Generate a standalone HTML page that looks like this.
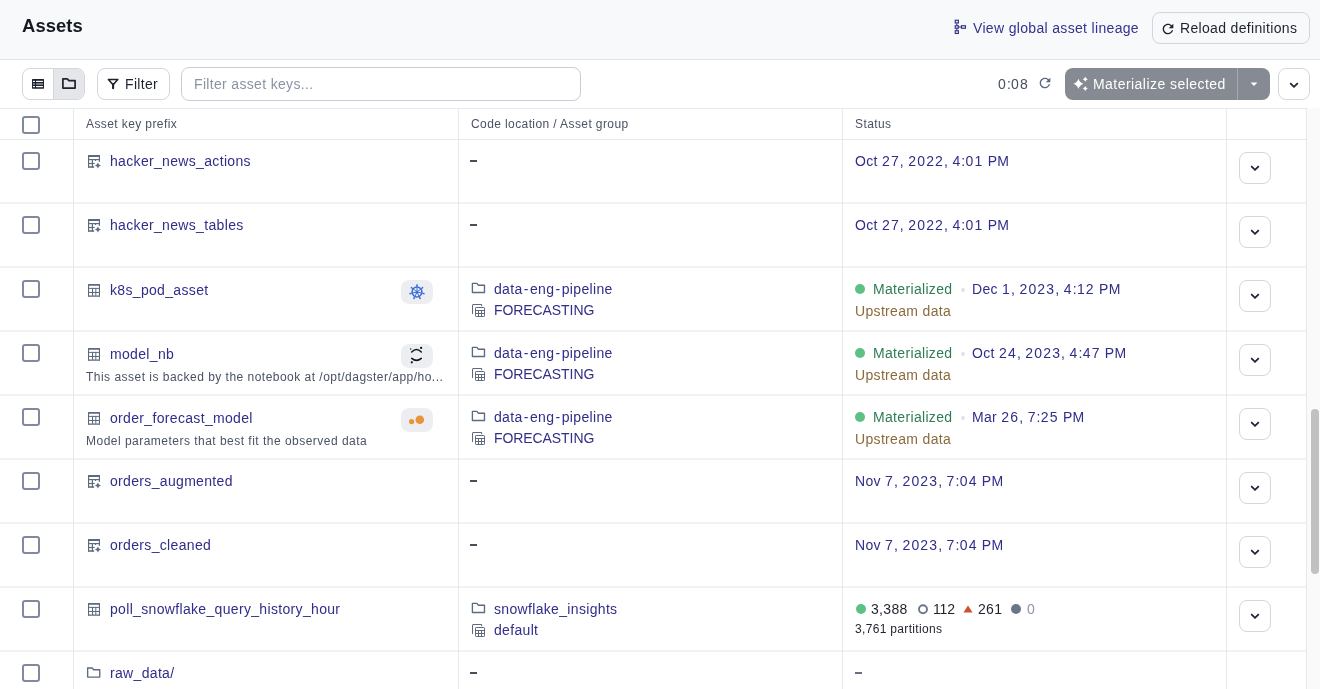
<!DOCTYPE html>
<html><head><meta charset="utf-8"><style>
html,body{margin:0;padding:0}
body{width:1320px;height:689px;overflow:hidden;position:relative;background:#fff;font-family:"Liberation Sans",sans-serif;}
.ic{position:absolute;display:block}
.t{position:absolute;white-space:nowrap;height:0;line-height:0;will-change:transform}
.cb{position:absolute;width:14px;height:14px;border:2px solid #808A9C;border-radius:3px;background:#fff}
.cbtn{position:absolute;width:30px;height:30px;border:1px solid #D3D7DE;border-radius:8px;background:#fff}
.tag{position:absolute;width:32px;height:24px;border-radius:8px;background:#ECEEF2}
.dash{position:absolute;width:7.3px;height:1.6px;background:#484E5C}
.gdot{position:absolute;width:10px;height:10px;border-radius:50%;background:#5DC184}
.hdot{position:absolute;width:6px;height:6px;border-radius:50%;border:1.8px solid #6B768A}
.sdot{position:absolute;width:4px;height:4px;border-radius:50%;background:#DFE2E7}
.vl{position:absolute;top:108px;height:581px;width:1px;background:#E5E8ED}
.hl{position:absolute;left:0;width:1306px;height:1px;background:#E5E8ED}
#hdr{position:absolute;left:0;top:0;width:1320px;height:59px;background:#F8F9FB;border-bottom:1px solid #E1E4E9}
.btn{position:absolute;box-sizing:border-box;border:1px solid #D2D6DD;border-radius:8px}
#sb{position:absolute;left:1307px;top:108px;width:13px;height:581px;background:#FAFAFA}
#thumb{position:absolute;left:1311px;top:409px;width:8px;height:165px;border-radius:4px;background:#C1C1C1}
</style></head><body>
<div id="hdr"></div>
<div class="t" style="left:22px;top:26.42px;font-size:18.4px;letter-spacing:0.1px;color:#161A22;font-weight:700;">Assets</div>
<svg class="ic" style="left:953px;top:18px" width="15" height="18" viewBox="0 0 15 18"><g fill="none" stroke="#302E89" stroke-width="1.15"><rect x="2.25" y="2.25" width="3.1" height="2.7"/><rect x="2.25" y="7.75" width="3.1" height="2.5"/><rect x="2.25" y="12.75" width="3.1" height="2.7"/><rect x="8.45" y="7.75" width="4" height="2.5"/><path d="M3.8 5.5V7.2M3.8 10.8V12.2M5.9 9H7.9"/></g></svg>
<div class="t" style="left:973px;top:28.15px;font-size:14px;letter-spacing:0.33px;color:#34328C;font-weight:400;">View global asset lineage</div>
<div class="btn" style="left:1152px;top:12px;width:158px;height:32px"></div>
<svg class="ic" style="left:1159.5px;top:20.5px" width="16" height="16" viewBox="0 0 24 24"><path fill="#1D2230" d="M17.65 6.35C16.2 4.9 14.21 4 12 4c-4.42 0-7.99 3.58-7.99 8s3.57 8 7.99 8c3.73 0 6.84-2.55 7.73-6h-2.08c-.82 2.33-3.04 4-5.65 4-3.31 0-6-2.69-6-6s2.69-6 6-6c1.66 0 3.14.69 4.22 1.78L13 11h7V4l-2.35 2.35z"/></svg>
<div class="t" style="left:1180px;top:28.15px;font-size:14px;letter-spacing:0.33px;color:#1D2230;font-weight:400;">Reload definitions</div>

<div class="btn" style="left:22px;top:68px;width:63px;height:32px;overflow:hidden"><div style="position:absolute;left:30px;top:0;width:32px;height:30px;background:#E4E6EA;border-left:1px solid #D2D6DD"></div></div>
<svg class="ic" style="left:32px;top:79px" width="12" height="10" viewBox="0 0 12 10"><rect x="0" y="0" width="12" height="9.7" rx="0.6" fill="#1D2230"/><g fill="#fff"><rect x="0.95" y="1.8" width="2" height="1.2"/><rect x="4.1" y="1.8" width="6.8" height="1.2"/><rect x="0.95" y="7" width="2" height="1.2"/><rect x="4.1" y="7" width="6.8" height="1.2"/></g><g fill="#A0A3AA"><rect x="0.95" y="4.3" width="2" height="1.4"/><rect x="4.1" y="4.3" width="6.8" height="1.4"/></g></svg>
<svg class="ic" style="left:61px;top:77px" width="16" height="13" viewBox="0 0 16 13"><path d="M1.9 1.8H5.9Q6.5 1.8 6.8 2.3L7.7 3.6H14.1V11.1H1.9Z" fill="none" stroke="#1D2230" stroke-width="1.7" stroke-linejoin="round"/></svg>

<div class="btn" style="left:97px;top:68px;width:73px;height:32px"></div>
<svg class="ic" style="left:103px;top:74px" width="20" height="20" viewBox="0 0 20 20"><path d="M5.4 5.5H14.8L10.1 10.8Z" fill="none" stroke="#1D2230" stroke-width="1.6" stroke-linejoin="round"/><path d="M10.1 10.3V14.3" stroke="#1D2230" stroke-width="2.1" stroke-linecap="round"/></svg>
<div class="t" style="left:125.2px;top:84.15px;font-size:14px;letter-spacing:0.33px;color:#1D2230;font-weight:400;">Filter</div>

<div class="btn" style="left:181px;top:67px;width:400px;height:34px;border-color:#C9CED6"></div>
<div class="t" style="left:194px;top:84.15px;font-size:14px;letter-spacing:0.33px;color:#8A93A3;font-weight:400;">Filter asset keys...</div>

<div class="t" style="left:997.5px;top:84.15px;font-size:14px;letter-spacing:0.33px;color:#454F60;font-weight:400;"><span style="letter-spacing:1.08px">0</span>:<span style="letter-spacing:1.08px">08</span></div>
<svg class="ic" style="left:1036.6px;top:74.7px" width="16" height="16" viewBox="0 0 24 24"><path fill="#5A6880" d="M17.65 6.35C16.2 4.9 14.21 4 12 4c-4.42 0-7.99 3.58-7.99 8s3.57 8 7.99 8c3.73 0 6.84-2.55 7.73-6h-2.08c-.82 2.33-3.04 4-5.65 4-3.31 0-6-2.69-6-6s2.69-6 6-6c1.66 0 3.14.69 4.22 1.78L13 11h7V4l-2.35 2.35z"/></svg>
<div style="position:absolute;left:1065px;top:68px;width:205px;height:32px;border-radius:8px;background:#868A92"></div>
<div style="position:absolute;left:1237px;top:68px;width:1px;height:32px;background:#A6A9AF"></div>
<svg class="ic" style="left:1068px;top:72px" width="24" height="24" viewBox="0 0 24 24"><path d="M10.45 6.75Q11.725 10.575 15.549999999999999 11.85Q11.725 13.125 10.45 16.95Q9.174999999999999 13.125 5.35 11.85Q9.174999999999999 10.575 10.45 6.75ZM17.25 4.8Q17.875 6.675 19.75 7.3Q17.875 7.925 17.25 9.8Q16.625 7.925 14.75 7.3Q16.625 6.675 17.25 4.8ZM17.25 13.899999999999999Q17.875 15.774999999999999 19.75 16.4Q17.875 17.025 17.25 18.9Q16.625 17.025 14.75 16.4Q16.625 15.774999999999999 17.25 13.899999999999999Z" fill="#fff"/></svg>
<div class="t" style="left:1093px;top:84.15px;font-size:14px;letter-spacing:0.45px;color:#fff;font-weight:400;">Materialize selected</div>
<svg class="ic" style="left:1250px;top:81px" width="8" height="6" viewBox="0 0 8 6"><path d="M0.6 1.4H7.4L4 5Z" fill="#fff"/></svg>
<div class="cbtn" style="left:1278px;top:68px"><svg width="10" height="6" viewBox="0 0 10 6" style="position:absolute;left:9.5px;top:13px"><path d="M1.2 1.2L5 4.8L8.8 1.2" fill="none" stroke="#1D2433" stroke-width="1.8"/></svg></div>

<div class="hl" style="top:108px"></div><div class="hl" style="top:139px"></div><div class="hl" style="top:202px;height:2px;background:#F1F2F5"></div><div class="hl" style="top:266px;height:2px;background:#F1F2F5"></div><div class="hl" style="top:330px;height:2px;background:#F1F2F5"></div><div class="hl" style="top:394px;height:2px;background:#F1F2F5"></div><div class="hl" style="top:458px;height:2px;background:#F1F2F5"></div><div class="hl" style="top:522px;height:2px;background:#F1F2F5"></div><div class="hl" style="top:586px;height:2px;background:#F1F2F5"></div><div class="hl" style="top:650px;height:2px;background:#F1F2F5"></div>
<div class="vl" style="left:73px"></div><div class="vl" style="left:458px"></div><div class="vl" style="left:842px"></div><div class="vl" style="left:1226px"></div><div class="vl" style="left:1306px"></div>
<div id="sb"></div><div id="thumb"></div>
<div class="cb" style="left:22px;top:116.3px"></div>
<div class="t" style="left:86px;top:123.84px;font-size:12px;letter-spacing:0.4px;color:#4A5263;font-weight:400;">Asset key prefix</div>
<div class="t" style="left:471px;top:123.84px;font-size:12px;letter-spacing:0.4px;color:#4A5263;font-weight:400;">Code location / Asset group</div>
<div class="t" style="left:855px;top:123.84px;font-size:12px;letter-spacing:0.4px;color:#4A5263;font-weight:400;">Status</div>
<div class="cb" style="left:22px;top:151.5px"></div>
<svg class="ic" style="left:87px;top:154px" width="16" height="16" viewBox="0 0 16 16"><g fill="#5E6A7D"><rect x="1" y="1.1" width="12" height="1.9" rx="0.4"/><rect x="1" y="1.1" width="1.15" height="12.6" rx="0.4"/><rect x="11.85" y="1.1" width="1.15" height="6.7"/><rect x="1" y="5" width="12" height="1.2"/><rect x="1" y="8.9" width="6.5" height="1.2"/><rect x="4.8" y="5" width="1.2" height="8.7"/><rect x="8" y="5" width="1" height="2"/><rect x="1" y="12.2" width="6.3" height="1.5" rx="0.4"/><path d="M10.9 8.5Q11.5 10.9 13.9 11.5Q11.5 12.1 10.9 14.5Q10.3 12.1 7.9 11.5Q10.3 10.9 10.9 8.5Z"/></g></svg>
<div class="t" style="left:110px;top:160.85px;font-size:14px;letter-spacing:0.33px;color:#302E89;font-weight:400;">hacker_news_actions</div>
<div class="dash" style="left:470px;top:160px"></div>
<div class="t" style="left:855px;top:161.15px;font-size:14px;letter-spacing:0.33px;color:#302E89;font-weight:400;">Oct <span style="letter-spacing:1.13px">27</span>, <span style="letter-spacing:1.13px">2022</span>, <span style="letter-spacing:1.13px">4</span>:<span style="letter-spacing:1.13px">01</span> PM</div>
<div class="cbtn" style="left:1239px;top:151.5px"><svg width="10" height="6" viewBox="0 0 10 6" style="position:absolute;left:9.5px;top:12.5px"><path d="M1.2 1.2L5 4.8L8.8 1.2" fill="none" stroke="#1D2433" stroke-width="1.8"/></svg></div>
<div class="cb" style="left:22px;top:215.5px"></div>
<svg class="ic" style="left:87px;top:218px" width="16" height="16" viewBox="0 0 16 16"><g fill="#5E6A7D"><rect x="1" y="1.1" width="12" height="1.9" rx="0.4"/><rect x="1" y="1.1" width="1.15" height="12.6" rx="0.4"/><rect x="11.85" y="1.1" width="1.15" height="6.7"/><rect x="1" y="5" width="12" height="1.2"/><rect x="1" y="8.9" width="6.5" height="1.2"/><rect x="4.8" y="5" width="1.2" height="8.7"/><rect x="8" y="5" width="1" height="2"/><rect x="1" y="12.2" width="6.3" height="1.5" rx="0.4"/><path d="M10.9 8.5Q11.5 10.9 13.9 11.5Q11.5 12.1 10.9 14.5Q10.3 12.1 7.9 11.5Q10.3 10.9 10.9 8.5Z"/></g></svg>
<div class="t" style="left:110px;top:224.85px;font-size:14px;letter-spacing:0.33px;color:#302E89;font-weight:400;">hacker_news_tables</div>
<div class="dash" style="left:470px;top:224px"></div>
<div class="t" style="left:855px;top:225.15px;font-size:14px;letter-spacing:0.33px;color:#302E89;font-weight:400;">Oct <span style="letter-spacing:1.13px">27</span>, <span style="letter-spacing:1.13px">2022</span>, <span style="letter-spacing:1.13px">4</span>:<span style="letter-spacing:1.13px">01</span> PM</div>
<div class="cbtn" style="left:1239px;top:215.5px"><svg width="10" height="6" viewBox="0 0 10 6" style="position:absolute;left:9.5px;top:12.5px"><path d="M1.2 1.2L5 4.8L8.8 1.2" fill="none" stroke="#1D2433" stroke-width="1.8"/></svg></div>
<div class="cb" style="left:22px;top:279.5px"></div>
<svg class="ic" style="left:87px;top:282px" width="16" height="16" viewBox="0 0 16 16"><g fill="#5E6A7D"><rect x="1" y="2.1" width="12" height="1.7" rx="0.4"/><rect x="1" y="2.1" width="1.1" height="12.6" rx="0.4"/><rect x="11.9" y="2.1" width="1.1" height="12.6" rx="0.4"/><rect x="1" y="13.4" width="12" height="1.3" rx="0.4"/><rect x="1" y="5.9" width="12" height="1.0"/><rect x="1" y="10" width="12" height="1.0"/><rect x="5" y="5.9" width="1.1" height="8"/><rect x="8.3" y="5.9" width="1.0" height="8"/></g></svg>
<div class="t" style="left:110px;top:289.85px;font-size:14px;letter-spacing:0.33px;color:#302E89;font-weight:400;">k8s_pod_asset</div>
<div class="tag" style="left:401px;top:279.5px"><svg width="18" height="18" viewBox="0 0 18 18" style="position:absolute;left:6.5px;top:3.5px"><g stroke="#3C6CDB" fill="none"><circle cx="9" cy="9" r="4.9" stroke-width="1.5"/><path d="M9 9L9.00 1.70M9 9L14.71 4.45M9 9L16.12 10.62M9 9L12.17 15.58M9 9L5.83 15.58M9 9L1.88 10.62M9 9L3.29 4.45" stroke-width="1.0"/></g><g fill="#3C6CDB"><circle cx="9.00" cy="2.00" r="0.85"/><circle cx="14.47" cy="4.64" r="0.85"/><circle cx="15.82" cy="10.56" r="0.85"/><circle cx="12.04" cy="15.31" r="0.85"/><circle cx="5.96" cy="15.31" r="0.85"/><circle cx="2.18" cy="10.56" r="0.85"/><circle cx="3.53" cy="4.64" r="0.85"/><circle cx="9" cy="9" r="1.3"/></g></svg></div>
<svg class="ic" style="left:470px;top:282px" width="17" height="13" viewBox="0 0 17 13"><path transform="translate(0 0)" d="M2.4 1.4H6.9L8.4 3.2H14.5V10.5H2.4Z" fill="none" stroke="#5E6A7D" stroke-width="1.35" stroke-linejoin="round"/></svg>
<div class="t" style="left:494px;top:288.65px;font-size:14px;letter-spacing:0.33px;color:#302E89;font-weight:400;">data<span style="letter-spacing:1.53px;padding-left:1.2px">-</span>eng<span style="letter-spacing:1.53px;padding-left:1.2px">-</span>pipeline</div>
<svg class="ic" style="left:472px;top:303px" width="14" height="15" viewBox="0 0 14 15"><g fill="none" stroke="#5E6A7D" stroke-width="1.05" stroke-linecap="round"><path d="M0.5 10.6V2.5Q0.5 1.5 1.5 1.5H9Q9.75 1.5 9.75 2.3V2.8"/></g><g fill="none" stroke="#5E6A7D" stroke-width="1.0"><rect x="3.5" y="4.5" width="9" height="9" rx="0.7"/><path d="M3.5 7.5H12.5M3.5 10.5H12.5M6.5 7.5V13.5M9.5 7.5V13.5"/></g></svg>
<div class="t" style="left:494px;top:310.45px;font-size:14px;letter-spacing:-0.08px;color:#302E89;font-weight:400;">FORECASTING</div>
<div class="gdot" style="left:855px;top:283.5px"></div>
<div class="t" style="left:873px;top:288.65px;font-size:14px;letter-spacing:0.33px;color:#2F7D52;font-weight:400;">Materialized</div>
<div class="sdot" style="left:960.5px;top:287.5px"></div>
<div class="t" style="left:972px;top:288.65px;font-size:14px;letter-spacing:0.33px;color:#302E89;font-weight:400;">Dec <span style="letter-spacing:1.15px">1</span>, <span style="letter-spacing:1.15px">2023</span>, <span style="letter-spacing:1.15px">4</span>:<span style="letter-spacing:1.15px">12</span> PM</div>
<div class="t" style="left:855px;top:310.65px;font-size:14px;letter-spacing:0.33px;color:#8A6B3B;font-weight:400;">Upstream data</div>
<div class="cbtn" style="left:1239px;top:279.5px"><svg width="10" height="6" viewBox="0 0 10 6" style="position:absolute;left:9.5px;top:12.5px"><path d="M1.2 1.2L5 4.8L8.8 1.2" fill="none" stroke="#1D2433" stroke-width="1.8"/></svg></div>
<div class="cb" style="left:22px;top:343.5px"></div>
<svg class="ic" style="left:87px;top:346px" width="16" height="16" viewBox="0 0 16 16"><g fill="#5E6A7D"><rect x="1" y="2.1" width="12" height="1.7" rx="0.4"/><rect x="1" y="2.1" width="1.1" height="12.6" rx="0.4"/><rect x="11.9" y="2.1" width="1.1" height="12.6" rx="0.4"/><rect x="1" y="13.4" width="12" height="1.3" rx="0.4"/><rect x="1" y="5.9" width="12" height="1.0"/><rect x="1" y="10" width="12" height="1.0"/><rect x="5" y="5.9" width="1.1" height="8"/><rect x="8.3" y="5.9" width="1.0" height="8"/></g></svg>
<div class="t" style="left:110px;top:353.85px;font-size:14px;letter-spacing:0.33px;color:#302E89;font-weight:400;">model_nb</div>
<div class="t" style="left:86px;top:377.34px;font-size:12px;letter-spacing:0.48px;color:#4A5263;font-weight:400;">This asset is backed by the notebook at /opt/dagster/app/ho...</div>
<div class="tag" style="left:401px;top:343.5px"><svg width="16" height="20" viewBox="0 0 16 20" style="position:absolute;left:8px;top:1.7px"><g fill="none" stroke="#111522" stroke-width="1.5" stroke-linecap="round"><path d="M2.7 6.9Q7.5 2.0 12.3 6.9"/><path d="M2.7 13.4Q7.5 17.4 12.3 13.4"/></g><g fill="#111522"><circle cx="12.1" cy="2.9" r="1.15"/><circle cx="1.7" cy="4" r="0.7"/><circle cx="2.8" cy="17.3" r="1.15"/></g></svg></div>
<svg class="ic" style="left:470px;top:346px" width="17" height="13" viewBox="0 0 17 13"><path transform="translate(0 0)" d="M2.4 1.4H6.9L8.4 3.2H14.5V10.5H2.4Z" fill="none" stroke="#5E6A7D" stroke-width="1.35" stroke-linejoin="round"/></svg>
<div class="t" style="left:494px;top:352.65px;font-size:14px;letter-spacing:0.33px;color:#302E89;font-weight:400;">data<span style="letter-spacing:1.53px;padding-left:1.2px">-</span>eng<span style="letter-spacing:1.53px;padding-left:1.2px">-</span>pipeline</div>
<svg class="ic" style="left:472px;top:367px" width="14" height="15" viewBox="0 0 14 15"><g fill="none" stroke="#5E6A7D" stroke-width="1.05" stroke-linecap="round"><path d="M0.5 10.6V2.5Q0.5 1.5 1.5 1.5H9Q9.75 1.5 9.75 2.3V2.8"/></g><g fill="none" stroke="#5E6A7D" stroke-width="1.0"><rect x="3.5" y="4.5" width="9" height="9" rx="0.7"/><path d="M3.5 7.5H12.5M3.5 10.5H12.5M6.5 7.5V13.5M9.5 7.5V13.5"/></g></svg>
<div class="t" style="left:494px;top:374.45px;font-size:14px;letter-spacing:-0.08px;color:#302E89;font-weight:400;">FORECASTING</div>
<div class="gdot" style="left:855px;top:347.5px"></div>
<div class="t" style="left:873px;top:352.65px;font-size:14px;letter-spacing:0.33px;color:#2F7D52;font-weight:400;">Materialized</div>
<div class="sdot" style="left:960.5px;top:351.5px"></div>
<div class="t" style="left:972px;top:352.65px;font-size:14px;letter-spacing:0.33px;color:#302E89;font-weight:400;">Oct <span style="letter-spacing:1.15px">24</span>, <span style="letter-spacing:1.15px">2023</span>, <span style="letter-spacing:1.15px">4</span>:<span style="letter-spacing:1.15px">47</span> PM</div>
<div class="t" style="left:855px;top:374.65px;font-size:14px;letter-spacing:0.33px;color:#8A6B3B;font-weight:400;">Upstream data</div>
<div class="cbtn" style="left:1239px;top:343.5px"><svg width="10" height="6" viewBox="0 0 10 6" style="position:absolute;left:9.5px;top:12.5px"><path d="M1.2 1.2L5 4.8L8.8 1.2" fill="none" stroke="#1D2433" stroke-width="1.8"/></svg></div>
<div class="cb" style="left:22px;top:407.5px"></div>
<svg class="ic" style="left:87px;top:410px" width="16" height="16" viewBox="0 0 16 16"><g fill="#5E6A7D"><rect x="1" y="2.1" width="12" height="1.7" rx="0.4"/><rect x="1" y="2.1" width="1.1" height="12.6" rx="0.4"/><rect x="11.9" y="2.1" width="1.1" height="12.6" rx="0.4"/><rect x="1" y="13.4" width="12" height="1.3" rx="0.4"/><rect x="1" y="5.9" width="12" height="1.0"/><rect x="1" y="10" width="12" height="1.0"/><rect x="5" y="5.9" width="1.1" height="8"/><rect x="8.3" y="5.9" width="1.0" height="8"/></g></svg>
<div class="t" style="left:110px;top:417.85px;font-size:14px;letter-spacing:0.33px;color:#302E89;font-weight:400;">order_forecast_model</div>
<div class="t" style="left:86px;top:441.34px;font-size:12px;letter-spacing:0.48px;color:#4A5263;font-weight:400;">Model parameters that best fit the observed data</div>
<div class="tag" style="left:401px;top:407.5px"><svg width="20" height="14" viewBox="0 0 20 14" style="position:absolute;left:6px;top:5px"><circle cx="4.6" cy="8.6" r="2.6" fill="#E8943A"/><circle cx="12.8" cy="6.7" r="4.3" fill="#E8943A"/></svg></div>
<svg class="ic" style="left:470px;top:410px" width="17" height="13" viewBox="0 0 17 13"><path transform="translate(0 0)" d="M2.4 1.4H6.9L8.4 3.2H14.5V10.5H2.4Z" fill="none" stroke="#5E6A7D" stroke-width="1.35" stroke-linejoin="round"/></svg>
<div class="t" style="left:494px;top:416.65px;font-size:14px;letter-spacing:0.33px;color:#302E89;font-weight:400;">data<span style="letter-spacing:1.53px;padding-left:1.2px">-</span>eng<span style="letter-spacing:1.53px;padding-left:1.2px">-</span>pipeline</div>
<svg class="ic" style="left:472px;top:431px" width="14" height="15" viewBox="0 0 14 15"><g fill="none" stroke="#5E6A7D" stroke-width="1.05" stroke-linecap="round"><path d="M0.5 10.6V2.5Q0.5 1.5 1.5 1.5H9Q9.75 1.5 9.75 2.3V2.8"/></g><g fill="none" stroke="#5E6A7D" stroke-width="1.0"><rect x="3.5" y="4.5" width="9" height="9" rx="0.7"/><path d="M3.5 7.5H12.5M3.5 10.5H12.5M6.5 7.5V13.5M9.5 7.5V13.5"/></g></svg>
<div class="t" style="left:494px;top:438.45px;font-size:14px;letter-spacing:-0.08px;color:#302E89;font-weight:400;">FORECASTING</div>
<div class="gdot" style="left:855px;top:411.5px"></div>
<div class="t" style="left:873px;top:416.65px;font-size:14px;letter-spacing:0.33px;color:#2F7D52;font-weight:400;">Materialized</div>
<div class="sdot" style="left:960.5px;top:415.5px"></div>
<div class="t" style="left:972px;top:416.65px;font-size:14px;letter-spacing:0.33px;color:#302E89;font-weight:400;">Mar <span style="letter-spacing:1.15px">26</span>, <span style="letter-spacing:1.15px">7</span>:<span style="letter-spacing:1.15px">25</span> PM</div>
<div class="t" style="left:855px;top:438.65px;font-size:14px;letter-spacing:0.33px;color:#8A6B3B;font-weight:400;">Upstream data</div>
<div class="cbtn" style="left:1239px;top:407.5px"><svg width="10" height="6" viewBox="0 0 10 6" style="position:absolute;left:9.5px;top:12.5px"><path d="M1.2 1.2L5 4.8L8.8 1.2" fill="none" stroke="#1D2433" stroke-width="1.8"/></svg></div>
<div class="cb" style="left:22px;top:471.5px"></div>
<svg class="ic" style="left:87px;top:474px" width="16" height="16" viewBox="0 0 16 16"><g fill="#5E6A7D"><rect x="1" y="1.1" width="12" height="1.9" rx="0.4"/><rect x="1" y="1.1" width="1.15" height="12.6" rx="0.4"/><rect x="11.85" y="1.1" width="1.15" height="6.7"/><rect x="1" y="5" width="12" height="1.2"/><rect x="1" y="8.9" width="6.5" height="1.2"/><rect x="4.8" y="5" width="1.2" height="8.7"/><rect x="8" y="5" width="1" height="2"/><rect x="1" y="12.2" width="6.3" height="1.5" rx="0.4"/><path d="M10.9 8.5Q11.5 10.9 13.9 11.5Q11.5 12.1 10.9 14.5Q10.3 12.1 7.9 11.5Q10.3 10.9 10.9 8.5Z"/></g></svg>
<div class="t" style="left:110px;top:480.85px;font-size:14px;letter-spacing:0.33px;color:#302E89;font-weight:400;">orders_augmented</div>
<div class="dash" style="left:470px;top:480px"></div>
<div class="t" style="left:855px;top:481.15px;font-size:14px;letter-spacing:0.33px;color:#302E89;font-weight:400;">Nov <span style="letter-spacing:1.13px">7</span>, <span style="letter-spacing:1.13px">2023</span>, <span style="letter-spacing:1.13px">7</span>:<span style="letter-spacing:1.13px">04</span> PM</div>
<div class="cbtn" style="left:1239px;top:471.5px"><svg width="10" height="6" viewBox="0 0 10 6" style="position:absolute;left:9.5px;top:12.5px"><path d="M1.2 1.2L5 4.8L8.8 1.2" fill="none" stroke="#1D2433" stroke-width="1.8"/></svg></div>
<div class="cb" style="left:22px;top:535.5px"></div>
<svg class="ic" style="left:87px;top:538px" width="16" height="16" viewBox="0 0 16 16"><g fill="#5E6A7D"><rect x="1" y="1.1" width="12" height="1.9" rx="0.4"/><rect x="1" y="1.1" width="1.15" height="12.6" rx="0.4"/><rect x="11.85" y="1.1" width="1.15" height="6.7"/><rect x="1" y="5" width="12" height="1.2"/><rect x="1" y="8.9" width="6.5" height="1.2"/><rect x="4.8" y="5" width="1.2" height="8.7"/><rect x="8" y="5" width="1" height="2"/><rect x="1" y="12.2" width="6.3" height="1.5" rx="0.4"/><path d="M10.9 8.5Q11.5 10.9 13.9 11.5Q11.5 12.1 10.9 14.5Q10.3 12.1 7.9 11.5Q10.3 10.9 10.9 8.5Z"/></g></svg>
<div class="t" style="left:110px;top:544.85px;font-size:14px;letter-spacing:0.33px;color:#302E89;font-weight:400;">orders_cleaned</div>
<div class="dash" style="left:470px;top:544px"></div>
<div class="t" style="left:855px;top:545.15px;font-size:14px;letter-spacing:0.33px;color:#302E89;font-weight:400;">Nov <span style="letter-spacing:1.13px">7</span>, <span style="letter-spacing:1.13px">2023</span>, <span style="letter-spacing:1.13px">7</span>:<span style="letter-spacing:1.13px">04</span> PM</div>
<div class="cbtn" style="left:1239px;top:535.5px"><svg width="10" height="6" viewBox="0 0 10 6" style="position:absolute;left:9.5px;top:12.5px"><path d="M1.2 1.2L5 4.8L8.8 1.2" fill="none" stroke="#1D2433" stroke-width="1.8"/></svg></div>
<div class="cb" style="left:22px;top:599.5px"></div>
<svg class="ic" style="left:87px;top:601px" width="16" height="16" viewBox="0 0 16 16"><g fill="#5E6A7D"><rect x="1" y="2.1" width="12" height="1.7" rx="0.4"/><rect x="1" y="2.1" width="1.1" height="12.6" rx="0.4"/><rect x="11.9" y="2.1" width="1.1" height="12.6" rx="0.4"/><rect x="1" y="13.4" width="12" height="1.3" rx="0.4"/><rect x="1" y="5.9" width="12" height="1.0"/><rect x="1" y="10" width="12" height="1.0"/><rect x="5" y="5.9" width="1.1" height="8"/><rect x="8.3" y="5.9" width="1.0" height="8"/></g></svg>
<div class="t" style="left:110px;top:608.85px;font-size:14px;letter-spacing:0.33px;color:#302E89;font-weight:400;">poll_snowflake_query_history_hour</div>
<svg class="ic" style="left:470px;top:602px" width="17" height="13" viewBox="0 0 17 13"><path transform="translate(0 0)" d="M2.4 1.4H6.9L8.4 3.2H14.5V10.5H2.4Z" fill="none" stroke="#5E6A7D" stroke-width="1.35" stroke-linejoin="round"/></svg>
<div class="t" style="left:494px;top:608.65px;font-size:14px;letter-spacing:0.33px;color:#302E89;font-weight:400;">snowflake_insights</div>
<svg class="ic" style="left:472px;top:623px" width="14" height="15" viewBox="0 0 14 15"><g fill="none" stroke="#5E6A7D" stroke-width="1.05" stroke-linecap="round"><path d="M0.5 10.6V2.5Q0.5 1.5 1.5 1.5H9Q9.75 1.5 9.75 2.3V2.8"/></g><g fill="none" stroke="#5E6A7D" stroke-width="1.0"><rect x="3.5" y="4.5" width="9" height="9" rx="0.7"/><path d="M3.5 7.5H12.5M3.5 10.5H12.5M6.5 7.5V13.5M9.5 7.5V13.5"/></g></svg>
<div class="t" style="left:494px;top:630.45px;font-size:14px;letter-spacing:0.33px;color:#302E89;font-weight:400;">default</div>
<div class="gdot" style="left:856px;top:604px"></div>
<div class="t" style="left:871px;top:608.65px;font-size:14px;letter-spacing:0.33px;color:#1F232B;font-weight:400;">3,388</div>
<svg class="ic" style="left:917px;top:603px" width="12" height="12" viewBox="0 0 12 12"><circle cx="6" cy="6.3" r="4" fill="none" stroke="#6B768A" stroke-width="1.9"/></svg>
<div class="t" style="left:933px;top:608.65px;font-size:14px;letter-spacing:-0.2px;color:#1F232B;font-weight:400;">112</div>
<svg class="ic" style="left:963px;top:605px" width="10" height="8" viewBox="0 0 10 8"><path d="M5 0.5L9.6 7.4H0.4Z" fill="#D14F33"/></svg>
<div class="t" style="left:978px;top:608.65px;font-size:14px;letter-spacing:0.33px;color:#1F232B;font-weight:400;">261</div>
<div class="gdot" style="left:1011px;top:604px;background:#6B768A"></div>
<div class="t" style="left:1026.8px;top:608.65px;font-size:14px;letter-spacing:0.33px;color:#8A94A7;font-weight:400;">0</div>
<div class="t" style="left:855px;top:628.84px;font-size:12px;letter-spacing:0.33px;color:#1F232B;font-weight:400;">3,761 partitions</div>
<div class="cbtn" style="left:1239px;top:599.5px"><svg width="10" height="6" viewBox="0 0 10 6" style="position:absolute;left:9.5px;top:12.5px"><path d="M1.2 1.2L5 4.8L8.8 1.2" fill="none" stroke="#1D2433" stroke-width="1.8"/></svg></div>
<div class="cb" style="left:22px;top:663.5px"></div>
<svg class="ic" style="left:85px;top:666px" width="17" height="13" viewBox="0 0 17 13"><path transform="translate(0.25 0.55)" d="M2.4 1.4H6.9L8.4 3.2H14.5V10.5H2.4Z" fill="none" stroke="#5E6A7D" stroke-width="1.35" stroke-linejoin="round"/></svg>
<div class="t" style="left:110px;top:672.85px;font-size:14px;letter-spacing:0.33px;color:#302E89;font-weight:400;">raw_data/</div>
<div class="dash" style="left:470px;top:672px"></div>
<div class="dash" style="left:854.6px;top:672px;width:7.2px;background:#687082"></div>
</body></html>
